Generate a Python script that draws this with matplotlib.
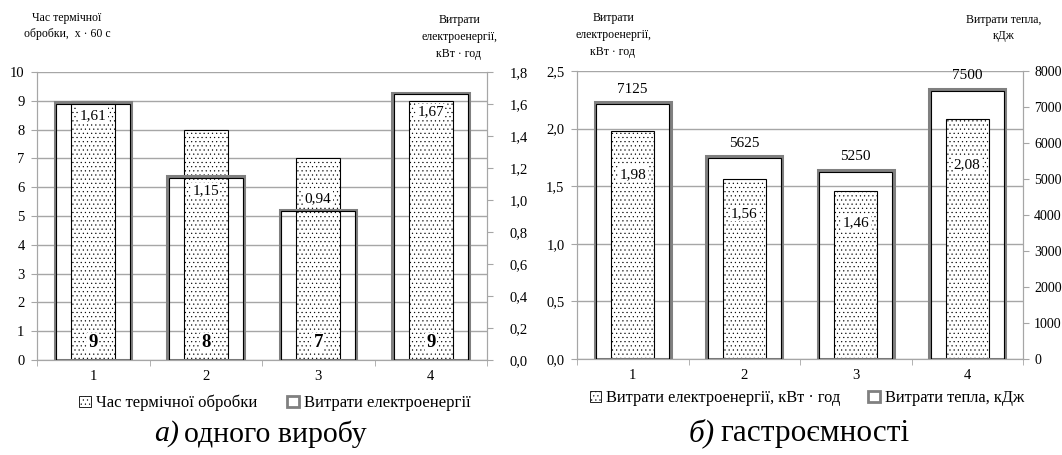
import numpy as np
import matplotlib
matplotlib.use('Agg')
import matplotlib.pyplot as plt
from matplotlib.patches import Patch

plt.rcParams['font.family'] = ['Liberation Serif', 'DejaVu Serif']
plt.rcParams['hatch.linewidth'] = 0.35

cats = ['1', '2', '3', '4']
time_a = [9, 8, 7, 9]                 # хв
elec_a = [1.61, 1.15, 0.94, 1.67]     # кВт·год
elec_b = [1.98, 1.56, 1.46, 2.08]     # кВт·год
heat_b = [7125, 5625, 5250, 7500]     # кДж

GRID = '#a6a6a6'
OUTER = '#808080'
W_OUT = 0.68
W_IN = 0.39
AX_H_PX = 288

fig = plt.figure(figsize=(10.62, 4.55), dpi=100)
x = np.arange(1, 5)


def setup(ax, ax2, ylim, yticks, y2lim, y2ticks, fmt, fmt2, pad2, size2):
    ax.set_xlim(0.5, 4.5)
    ax.set_ylim(*ylim)
    ax.set_yticks(yticks)
    ax.set_yticklabels([fmt(v) for v in yticks])
    ax2.set_ylim(*y2lim)
    ax2.set_yticks(y2ticks)
    ax2.set_yticklabels([fmt2(v) for v in y2ticks])
    ax.set_xticks(x)
    ax.set_xticklabels(cats)
    ax.set_xticks(np.arange(0.5, 5, 1), minor=True)
    ax.tick_params(axis='x', which='major', length=0, pad=7, labelsize=10.5)
    ax.tick_params(axis='x', which='minor', length=4, color=GRID)
    ax.tick_params(axis='y', length=4, color=GRID, pad=5, labelsize=10.5)
    ax2.tick_params(axis='y', length=4, color=GRID, pad=pad2, labelsize=size2)
    ax.grid(axis='y', color=GRID, lw=1)
    ax.set_axisbelow(True)
    for a in (ax, ax2):
        a.spines['top'].set_visible(False)
        for s in ('left', 'right', 'bottom'):
            a.spines[s].set_color(GRID)


def hollow(ax2, vals, top):
    ax2.bar(x, vals, W_OUT, fill=False, edgecolor=OUTER, lw=2.2, zorder=3)
    dy = top * 1.5 / AX_H_PX
    ax2.bar(x, np.array(vals) - dy, W_OUT - 0.026, fill=False,
            edgecolor='black', lw=0.8, zorder=4)


def dotted(ax, vals):
    ax.bar(x, vals, W_IN, color='white', edgecolor='black', lw=0.8,
           hatch='....', zorder=2)


lbl = dict(ha='center', va='center', fontsize=11,
           bbox=dict(facecolor='white', edgecolor='none', pad=1.0), zorder=6)

# ---------- a) ----------
axA = fig.add_axes([37 / 1062, 95 / 455, 450 / 1062, AX_H_PX / 455])
axA2 = axA.twinx()
setup(axA, axA2, (0, 10), range(0, 11), (0, 1.8),
      [0, 0.2, 0.4, 0.6, 0.8, 1.0, 1.2, 1.4, 1.6, 1.8],
      lambda v: f'{v:d}', lambda v: f'{v:.1f}'.replace('.', ','), 12, 10.5)
dotted(axA, time_a)
hollow(axA2, elec_a, 1.8)
for xi, v in zip(x, time_a):
    axA.text(xi, 0.6, str(v), fontweight='bold', **{**lbl, 'fontsize': 13.5})
offs_a = [-0.08, -0.09, 0.07, -0.12]
for xi, v, o in zip(x, elec_a, offs_a):
    axA2.text(xi, v + o, f'{v:.2f}'.replace('.', ','), **lbl)

fig.text(67 / 1062, 1 - 26 / 455, 'Час термічної\nобробки,  x · 60 с',
         ha='center', va='center', fontsize=8.5, linespacing=1.5)
fig.text(459 / 1062, 1 - 37 / 455, 'Витрати\nелектроенергії,\nкВт · год',
         ha='center', va='center', fontsize=8.5, linespacing=1.5)

hA1 = Patch(facecolor='white', edgecolor='black', hatch='....', lw=0.6)
hA2 = Patch(facecolor='white', edgecolor=OUTER, lw=2)
fig.legend([hA1, hA2], ['Час термічної обробки', 'Витрати електроенергії'],
           loc='center', bbox_to_anchor=(275 / 1062, 1 - 403 / 455), ncol=2,
           frameon=False, fontsize=12, handlelength=0.7, handleheight=0.7,
           handletextpad=0.3, columnspacing=1.8)
fig.text(179 / 1062, 1 - 434 / 455, 'а)', style='italic', ha='right',
         va='center', fontsize=21.5)
fig.text(184 / 1062, 1 - 434 / 455, 'одного виробу', ha='left',
         va='center', fontsize=21.5)

# ---------- б) ----------
axB = fig.add_axes([577 / 1062, 96 / 455, 446 / 1062, AX_H_PX / 455])
axB2 = axB.twinx()
setup(axB, axB2, (0, 2.5), [0, 0.5, 1.0, 1.5, 2.0, 2.5], (0, 8000),
      range(0, 8001, 1000),
      lambda v: f'{v:.1f}'.replace('.', ','), lambda v: f'{v:d}', 4, 10)
dotted(axB, elec_b)
hollow(axB2, heat_b, 8000)
for xi, v in zip(x, elec_b):
    axB.text(xi, v * 0.81, f'{v:.2f}'.replace('.', ','), **lbl)
for xi, v in zip(x, heat_b):
    axB2.annotate(str(v), (xi, v), xytext=(0, 5), textcoords='offset points',
                  ha='center', va='bottom', fontsize=11, zorder=6)

fig.text(613 / 1062, 1 - 35 / 455, 'Витрати\nелектроенергії,\nкВт · год',
         ha='center', va='center', fontsize=8.5, linespacing=1.5)
fig.text(1004 / 1062, 1 - 28 / 455, 'Витрати тепла,\nкДж',
         ha='center', va='center', fontsize=8.5, linespacing=1.5)

hB1 = Patch(facecolor='white', edgecolor='black', hatch='....', lw=0.6)
hB2 = Patch(facecolor='white', edgecolor=OUTER, lw=2)
fig.legend([hB1, hB2], ['Витрати електроенергії, кВт · год', 'Витрати тепла, кДж'],
           loc='center', bbox_to_anchor=(807 / 1062, 1 - 398 / 455), ncol=2,
           frameon=False, fontsize=11.8, handlelength=0.7, handleheight=0.7,
           handletextpad=0.3, columnspacing=1.7)
fig.text(715 / 1062, 1 - 433 / 455, 'б)', style='italic', ha='right',
         va='center', fontsize=22.5)
fig.text(720 / 1062, 1 - 433 / 455, 'гастроємності', ha='left',
         va='center', fontsize=22.5)

fig.savefig('out.png', dpi=100)
